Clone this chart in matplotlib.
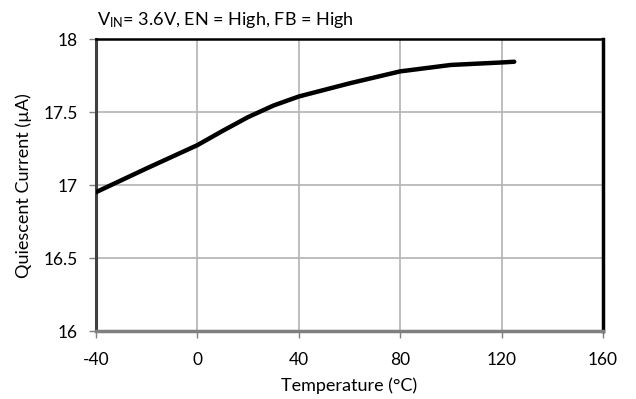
import matplotlib
matplotlib.use("Agg")
import matplotlib.pyplot as plt

plt.rcParams['font.family'] = ['Lato', 'DejaVu Sans']
plt.rcParams['mathtext.default'] = 'regular'
plt.rcParams['axes.unicode_minus'] = False

temps = [-40, -20, 0, 10, 20, 30, 40, 60, 80, 100, 120, 125]
iq = [16.952, 17.115, 17.274, 17.372, 17.466, 17.545, 17.607,
      17.697, 17.779, 17.823, 17.84, 17.845]

xticks = [-40, 0, 40, 80, 120, 160]
yticks = [16, 16.5, 17, 17.5, 18]
ytick_labels = ['16', '16.5', '17', '17.5', '18']

fig = plt.figure(figsize=(6.36, 3.99), dpi=100)
ax = fig.add_axes([0.151, 0.170, 0.797, 0.732])

ax.plot(temps, iq, color='black', lw=3.2, solid_capstyle='round',
        solid_joinstyle='round', zorder=3)

ax.set_xlim(-40, 160)
ax.set_ylim(16, 18)
ax.set_xticks(xticks)
ax.set_yticks(yticks)
ax.set_yticklabels(ytick_labels)
ax.grid(True, color='#b3b3b3', lw=1.2)
ax.tick_params(axis='both', labelsize=12.5, color='#808080', length=5,
               width=1, direction='out')
ax.tick_params(axis='x', pad=10)
ax.tick_params(axis='y', pad=8)

ax.spines['left'].set_color('#404040')
ax.spines['left'].set_linewidth(2.2)
ax.spines['bottom'].set_color('#7f7f7f')
ax.spines['bottom'].set_linewidth(2.5)
ax.spines['top'].set_color('black')
ax.spines['top'].set_linewidth(1.8)
ax.spines['right'].set_color('black')
ax.spines['right'].set_linewidth(2.5)

ax.set_xlabel('Temperature (°C)', fontsize=13, labelpad=7)
ax.set_ylabel('Quiescent Current (µA)', fontsize=13, labelpad=8)
fig.text(0.152, 0.925, '$V_{IN}$= 3.6V, EN = High, FB = High', fontsize=13,
         ha='left', va='bottom')

fig.savefig('out.png', dpi=100)
